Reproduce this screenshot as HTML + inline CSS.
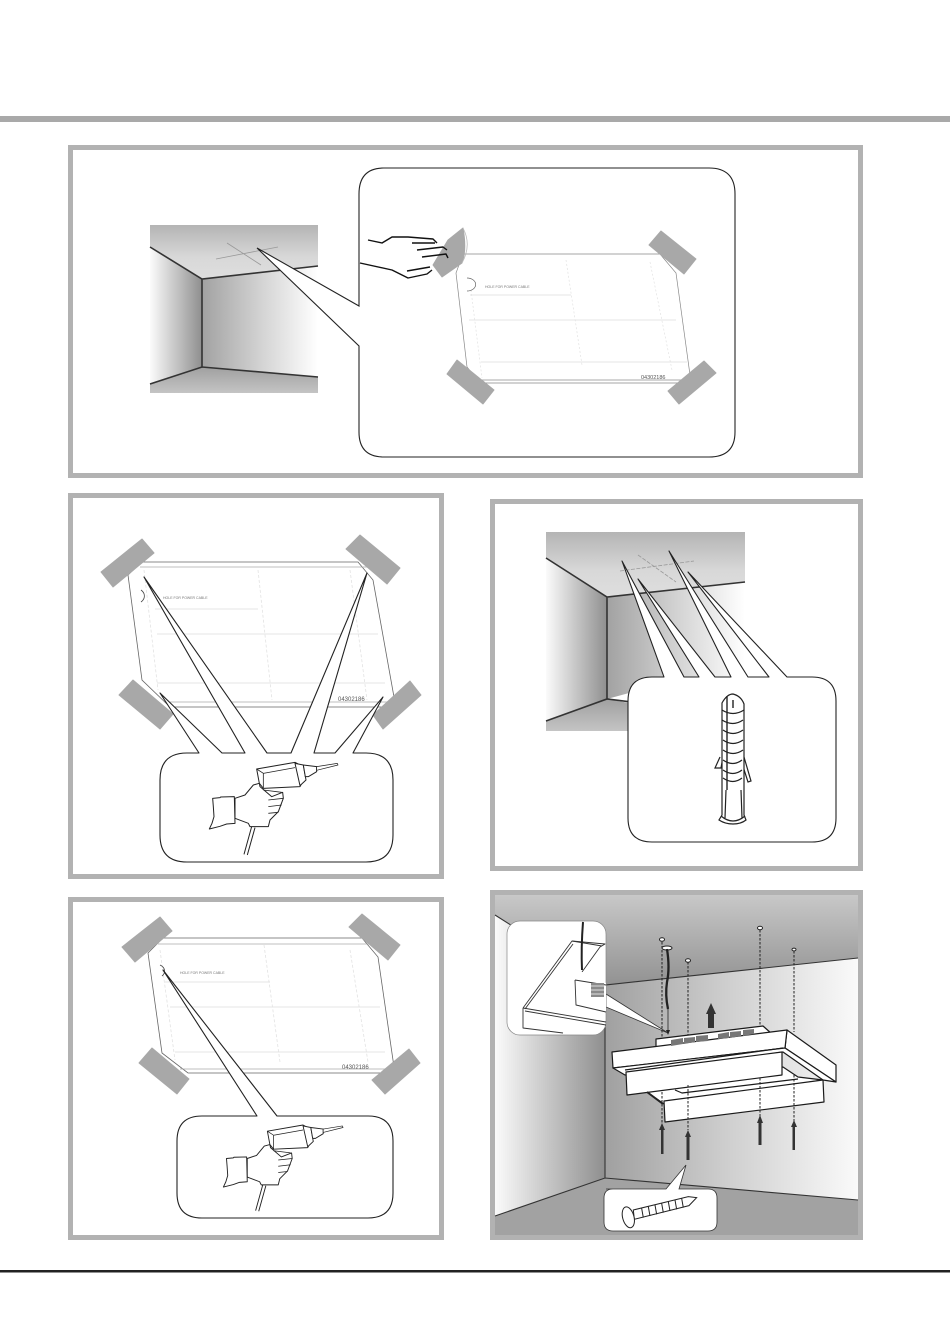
<!DOCTYPE html>
<html><head><meta charset="utf-8"><style>
html,body{margin:0;padding:0;background:#fff}
svg{display:block}
text{font-family:"Liberation Sans",sans-serif}
.tape{fill:#a8a8a8;stroke:#a8a8a8;stroke-width:1;stroke-linejoin:round}
</style></head><body>
<svg xmlns="http://www.w3.org/2000/svg" width="950" height="1344" viewBox="0 0 950 1344">
<defs>
<linearGradient id="ceil" x1="0" y1="0" x2="0" y2="1"><stop offset="0" stop-color="#b4b4b4"/><stop offset=".6" stop-color="#d8d8d8"/><stop offset="1" stop-color="#dedede"/></linearGradient>
<linearGradient id="wl" x1="0" y1="0" x2="1" y2="0"><stop offset="0" stop-color="#fbfbfb"/><stop offset="1" stop-color="#8f8f8f"/></linearGradient>
<linearGradient id="wr" x1="0" y1="0" x2="1" y2="0"><stop offset="0" stop-color="#a2a2a2"/><stop offset=".5" stop-color="#d2d2d2"/><stop offset="1" stop-color="#ffffff"/></linearGradient>
<linearGradient id="fl" x1="0" y1="0" x2="0" y2="1"><stop offset="0" stop-color="#a0a0a0"/><stop offset="1" stop-color="#c4c4c4"/></linearGradient>
<linearGradient id="c5" x1="0" y1="0" x2="0" y2="1"><stop offset="0" stop-color="#c8c8c8"/><stop offset="1" stop-color="#929292"/></linearGradient>
<linearGradient id="wl5" x1="0" y1="0" x2="1" y2="0"><stop offset="0" stop-color="#fbfbfb"/><stop offset=".5" stop-color="#c4c4c4"/><stop offset="1" stop-color="#8f8f8f"/></linearGradient>
<linearGradient id="wr5" x1="0" y1="0" x2="1" y2="0"><stop offset="0" stop-color="#a0a0a0"/><stop offset=".5" stop-color="#d0d0d0"/><stop offset="1" stop-color="#fafafa"/></linearGradient>
<g id="drill" fill="#fff" stroke="#222" stroke-width="3" stroke-linejoin="round">
<path d="M155,215 L132,298 M165,218 L142,300" fill="none"/>
<path d="M178,85 L160,90 L135,120 L105,130 L105,190 L145,205 L150,215 L205,215 L210,195 L235,170 L250,130 L248,112 L215,125 L180,95 Z"/>
<path d="M38,130 L60,128 L62,126 L103,125 L105,205 L80,207 L60,214 L28,222 L36,205 L42,185 L40,155 Z"/>
<path d="M205,135 L250,130 M205,155 L245,150 M205,175 L235,172 M190,105 L245,112" fill="none" stroke-width="2.4"/>
<path d="M170,42 L285,22 L300,30 L308,80 L300,95 L190,100 L178,85 Z"/>
<path d="M170,42 L190,55 L285,38 M190,55 V100" fill="none" stroke-width="2.4"/>
<path d="M285,25 L310,30 L318,75 L300,92 Z"/>
<path d="M310,30 L350,35 L350,50 L325,65 L316,65 Z"/>
<path d="M350,35 L412,25 L414,30 L350,46 Z" stroke-width="2.2"/>
</g>
</defs>
<rect width="950" height="1344" fill="#fff"/>
<rect x="0" y="116" width="950" height="6" fill="#a9a9a9"/>
<rect x="0" y="1270" width="950" height="2.5" fill="#222"/>

<!-- Panel 1 -->
<rect x="70.5" y="147.5" width="790" height="328" fill="#fff" stroke="#b2b2b2" stroke-width="5"/>
<polygon points="150,225 318,225 318,266 202,279 150,247" fill="url(#ceil)"/>
<polygon points="150,247 202,279 202,367 150,384" fill="url(#wl)"/>
<polygon points="202,279 318,266 318,377 202,367" fill="url(#wr)"/>
<polygon points="150,384 202,367 318,377 318,393 150,393" fill="url(#fl)"/>
<path d="M150,247 L202,279 L318,266 M202,279 V367 M150,384 L202,367 L318,377" fill="none" stroke="#333" stroke-width="1.6"/>
<path d="M216,259 L278,247 M227,243 L261,265" stroke="#999" stroke-width=".8" fill="none"/>
<path d="M359,306 L257,248 L359,346 V432 Q359,457 384,457 H709 Q735,457 735,432 V194 Q735,168 709,168 H384 Q359,168 359,194 Z" fill="#fff" stroke="#222" stroke-width="1.1"/>
<!-- sheet 1 -->
<g fill="none" stroke-width=".7">
<path d="M463,254 H660 L676,273 L690,375 L682,383 H480 L467,367 L456,273 Z" stroke="#888"/>
<path d="M482,380 H688" stroke="#aaa" stroke-width="1"/>
<path d="M469,320 H676 M470,295 H571 M481,362 H687" stroke="#ddd"/>
<path d="M566,260 L582,365 M650,262 L672,370 M471,290 L482,378" stroke="#e2e2e2" stroke-dasharray="2 2"/>
<path d="M467,278 A8,6 0 0 1 467,291" stroke="#666"/>
</g>
<text x="485" y="288" font-size="3.5" fill="#777">HOLE FOR POWER CABLE</text>
<text x="641" y="379" font-size="5.5" fill="#555">04302186</text>
<polygon class="tape" points="661,231 696,259 684,274 649,245"/>
<polygon class="tape" points="457,360 494,390 483,404 447,374"/>
<polygon class="tape" points="704,361 716,373 679,404 668,391"/>
<path class="tape" d="M463,228 Q467,250 462,263 L442,277 L433,265 L448,240 Z"/>
<path d="M463,228 Q472,245 462,263" fill="none" stroke="#bbb" stroke-width=".8"/>
<path d="M368,240 L382,243 L392,237 L408,237 L433,239 L437,243 M360,263 L392,270 L408,278 L427,274 L432,270 M412,243 L435,243 M417,250 L443,247 L447,250 M422,257 L446,254 L448,258 M407,271 L430,267" fill="none" stroke="#111" stroke-width="1.4" stroke-linejoin="round"/>

<!-- Panel 2 -->
<rect x="70.5" y="495.5" width="371" height="381" fill="#fff" stroke="#b2b2b2" stroke-width="5"/>
<g fill="none" stroke-width=".8">
<path d="M142,562 H358 L373,580 L394,697 V707 H170 L142,680 L128,575 Z" stroke="#666"/>
<path d="M140,567 H368 M170,702 H392" stroke="#aaa"/>
<path d="M157,634 H378 M157,683 H385 M155,609 H258" stroke="#ddd"/>
<path d="M144,570 L158,690 M350,570 L367,700 M258,570 L272,700" stroke="#e2e2e2" stroke-dasharray="3 2"/>
<path d="M141,590 A10,8 0 0 1 141,602" stroke="#444"/>
</g>
<text x="163" y="599" font-size="3.5" fill="#777">HOLE FOR POWER CABLE</text>
<text x="338" y="701" font-size="6" fill="#555">04302186</text>
<polygon class="tape" points="142,539 154,553 113,587 101,572"/>
<polygon class="tape" points="360,535 400,568 387,584 346,549"/>
<polygon class="tape" points="133,680 173,714 160,729 119,695"/>
<polygon class="tape" points="410,681 421,695 383,729 373,715"/>
<path d="M199,753 L160,693 L222,753 H245 L144,577 L267,753 H291 L367,573 L314,753 H335 L383,697 L353,753 H366 Q393,753 393,780 V835 Q393,862 366,862 H187 Q160,862 160,835 V780 Q160,753 187,753 Z" fill="#fff" stroke="#222" stroke-width="1.1" stroke-linejoin="round"/>
<use href="#drill" transform="translate(200,755) scale(.3333)"/>

<!-- Panel 3 -->
<rect x="492.5" y="501.5" width="368" height="367" fill="#fff" stroke="#b2b2b2" stroke-width="5"/>
<polygon points="546,532 745,532 745,582 607,597 546,558" fill="url(#ceil)"/>
<polygon points="546,558 607,597 607,699 546,721" fill="url(#wl)"/>
<polygon points="607,597 745,582 745,680 640,690 607,699" fill="url(#wr)"/>
<polygon points="546,721 607,699 640,705 640,731 546,731" fill="url(#fl)"/>
<path d="M546,558 L607,597 L745,582 M607,597 V699 M546,721 L607,699 L640,703" fill="none" stroke="#333" stroke-width="1.6"/>
<path d="M620,571 L694,561 M638,555 L676,582" stroke="#999" stroke-width=".8" stroke-dasharray="4 1.5" fill="none"/>
<path d="M664,677 L622,561 L684,677 H699 L638,579 L715,677 H731 L669,551 L748,677 H769 L688,572 L787,677 H812 Q836,677 836,701 V818 Q836,842 812,842 H652 Q628,842 628,818 V701 Q628,677 652,677 Z" fill="#fff" stroke="#222" stroke-width="1.1" stroke-linejoin="round"/>
<g fill="#fff" stroke="#222" stroke-width="1.2">
<path d="M720,757 L715,768 L721,768 L723,757 M744,757 L751,781 L748,782 L741,760"/>
<path d="M722,703 Q727,694 733,694 Q741,696 744,704 V815 L746,820 Q741,824 733,824 Q725,824 719,820 L722,815 Z"/>
<path d="M727,696 V790 M733,700 V708" fill="none" stroke-width="1.4"/>
<path d="M722,710 Q733,717 744,710 M722,720 Q733,727 743,720 M723,730 Q733,737 743,730 M723,740 Q733,747 743,740 M723,750 Q733,757 743,750 M723,760 Q733,767 742,760 M723,770 Q733,777 742,770 M723,778 Q733,785 742,778" fill="none"/>
<path d="M726,790 L725,818 M741,790 L742,818 M721,816 Q733,826 745,816" fill="none"/>
</g>

<!-- Panel 4 -->
<rect x="70.5" y="899.5" width="371" height="338" fill="#fff" stroke="#b2b2b2" stroke-width="5"/>
<g fill="none" stroke-width=".8">
<path d="M163,938 H362 L378,957 L394,1067 V1073 H188 L162,1053 L148,953 Z" stroke="#666"/>
<path d="M158,944 H372 M180,1069 H392" stroke="#aaa"/>
<path d="M170,1007 H380 M175,1052 H385 M165,982 H270" stroke="#ddd"/>
<path d="M160,950 L175,1060 M350,950 L368,1062 M264,945 L280,1062" stroke="#e2e2e2" stroke-dasharray="3 2"/>
<path d="M160,965 A9,7 0 0 1 162,976" stroke="#444"/>
</g>
<text x="180" y="974" font-size="3.5" fill="#777">HOLE FOR POWER CABLE</text>
<text x="342" y="1069" font-size="6" fill="#555">04302186</text>
<polygon class="tape" points="160,917 172,931 135,962 122,947"/>
<polygon class="tape" points="362,914 400,945 388,960 349,927"/>
<polygon class="tape" points="152,1048 189,1079 177,1094 139,1063"/>
<polygon class="tape" points="409,1049 420,1063 385,1094 372,1080"/>
<path d="M257,1116 L163,970 L277,1116 H368 Q393,1116 393,1141 V1193 Q393,1218 368,1218 H202 Q177,1218 177,1193 V1141 Q177,1116 202,1116 Z" fill="#fff" stroke="#222" stroke-width="1.1" stroke-linejoin="round"/>
<use href="#drill" transform="translate(214.7,1118.2) scale(.31)"/>

<!-- Panel 5 -->
<rect x="492.5" y="892.5" width="368" height="345" fill="#c0c0c0" stroke="#b2b2b2" stroke-width="5"/>
<polygon points="495,895 858,895 858,958 605,985 495,915" fill="url(#c5)"/>
<polygon points="495,915 605,985 605,1179 495,1216" fill="url(#wl5)"/>
<polygon points="605,985 858,958 858,1200 605,1178" fill="url(#wr5)"/>
<polygon points="495,1216 605,1178 858,1200 858,1235 495,1235" fill="#a2a2a2"/>
<path d="M495,915 L605,985 L858,958 M605,985 V1178 M495,1216 L605,1178 L858,1200" fill="none" stroke="#333" stroke-width="1.1"/>

<!-- wedge, cable and top screws -->
<polygon points="606,994 668,1033 606,1007" fill="#fff" stroke="#333" stroke-width=".8"/>
<g fill="none" stroke="#222" stroke-width="1" stroke-dasharray="2.5 1.5">
<path d="M662,942 V1040 M688,962 V1038 M760,930 V1030 M794,951 V1032"/>
</g>
<g fill="#fff" stroke="#222" stroke-width="1">
<ellipse cx="662" cy="939.500" rx="2.500" ry="1.700"/><ellipse cx="688" cy="960.500" rx="2.500" ry="1.700"/><ellipse cx="760" cy="928" rx="2.500" ry="1.700"/><ellipse cx="794" cy="949.500" rx="2" ry="1.400"/>
<ellipse cx="667" cy="948" rx="5" ry="2"/>
</g>
<path d="M667,949 Q670,968 667,982 Q665,995 668,1009" fill="none" stroke="#222" stroke-width="2.300"/>
<path d="M668,1009 V1032" fill="none" stroke="#222" stroke-width=".8"/>
<polygon points="668,1035 666,1030 670,1030" fill="#222"/>
<polygon points="711,1003 716,1014 714,1014 714,1028 708,1028 708,1014 706,1014" fill="#333"/>

<!-- hood -->
<g fill="#fff" stroke="#1a1a1a" stroke-width="1.200" stroke-linejoin="round">
<polygon points="656,1039 763,1026 772,1034 772,1045 656,1055"/>
<polygon points="787,1030 836,1065 836,1082 785,1048"/>
<polygon points="612,1052 787,1030 785,1048 613,1068"/>
<polygon points="613,1068 785,1048 836,1082 823,1080 783,1052 625,1075"/>
<polygon points="647,1092 783,1067 798,1077 823,1080 664,1104"/>
<polygon points="664,1101 823,1080 824,1102 665,1122"/>
<path d="M675,1090 L682,1093 L798,1079 M625,1070 L783,1048" fill="none"/>
<polygon points="626,1072 782,1052 782,1075 627,1095"/>
</g>
<path d="M647,1092 L663,1104" stroke="#222" stroke-width="2" fill="none"/>
<g fill="#777"><polygon points="671,1040 683,1038 683,1044 671,1046"/><polygon points="684,1038 695,1037 695,1042 684,1044"/><polygon points="696,1036 708,1035 708,1041 696,1042"/><polygon points="718,1034 729,1032 729,1038 718,1039"/><polygon points="730,1032 741,1031 741,1036 730,1038"/><polygon points="743,1030 754,1029 754,1034 743,1036"/></g>
<!-- lower dashes + screws -->
<g fill="none" stroke="#222" stroke-width="1" stroke-dasharray="2.500 1.500">
<path d="M662,1092 V1124 M688,1085 V1130 M760,1078 V1118 M794,1075 V1122"/>
</g>
<g fill="#333">
<polygon points="662,1123 665,1130 659,1130"/><polygon points="688,1130 691,1137 685,1137"/><polygon points="760,1115 763,1123 757,1123"/><polygon points="794,1120 797,1127 791,1127"/>
<rect x="661" y="1130" width="2.500" height="24"/><rect x="686.500" y="1137" width="3" height="23"/><rect x="758.500" y="1123" width="3" height="22"/><rect x="792.500" y="1127" width="2.500" height="23"/>
</g>
<!-- bubble screw -->
<path d="M606,1189 Q606,1189 613,1189 H666 L686,1165 L679,1189 H708 Q717,1189 717,1198 V1222 Q717,1231 708,1231 H613 Q604,1231 604,1222 V1198 Q604,1189 613,1189 Z" fill="#fff" stroke="#333" stroke-width=".8"/>
<g transform="translate(485,885) scale(.3333)" fill="#fff" stroke="#222" stroke-width="3">
<path d="M445,975 L610,935 L635,938 L612,962 L448,1003 Z"/>
<path d="M470,970 L475,998 M490,965 L495,993 M510,960 L515,988 M530,955 L535,983 M550,950 L555,978 M570,945 L575,973 M590,940 L595,968" fill="none"/>
<ellipse cx="430" cy="997" rx="17" ry="32" transform="rotate(-15 430 997)"/>
</g>
<!-- inset -->
<rect x="507" y="921" width="99" height="114" rx="13" fill="#fff" stroke="#888" stroke-width=".7"/>
<g fill="#fff" stroke="#333" stroke-width=".9" stroke-linejoin="round">
<path d="M523,1008 L572,941 L605,944 L600,947 L582,972" fill="none"/>
<path d="M525,1009 L573,944 M572,941 L602,946" fill="none"/>
<path d="M575,980 L582,972 L606,983 V1012 L576,1005 Z" stroke="none"/>
<path d="M575,980 L606,985 M575,980 L576,1005 L606,1012" fill="none"/>
<path d="M523,1008 L606,1022 M525,1011 L606,1025 M523,1008 V1028 L563,1033" fill="none"/>
</g>
<rect x="591" y="983" width="13" height="14" fill="#8a8a8a"/>
<path d="M591,986 H604 M591,990 H604 M591,994 H604" stroke="#ddd" stroke-width="1"/>
<path d="M583,922 Q581,948 582,970" fill="none" stroke="#222" stroke-width="2"/>
</svg>
</body></html>
